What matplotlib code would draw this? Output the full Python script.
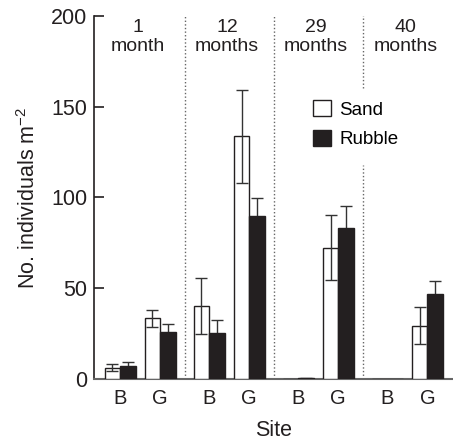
import matplotlib
matplotlib.use("Agg")
import matplotlib.pyplot as plt
import numpy as np
from matplotlib.patches import Patch

plt.rcParams['font.family'] = ['Liberation Sans', 'DejaVu Sans']

periods = ["1\nmonth", "12\nmonths", "29\nmonths", "40\nmonths"]
sites = ["B", "G"]
# order: (period, site) -> B1, G1, B12, G12, B29, G29, B40, G40
sand = [6.2, 33.4, 40.2, 133.5, 0.0, 72.3, 0.0, 29.4]
sand_err = [1.8, 4.8, 15.3, 25.7, 0.0, 17.8, 0.0, 10.0]
rubble = [7.2, 25.7, 25.3, 89.8, 0.5, 83.0, 0.0, 46.7]
rubble_err = [2.0, 4.6, 7.2, 10.0, 0.3, 12.0, 0.0, 7.3]

W, H = 453, 443
fig = plt.figure(figsize=(W / 100, H / 100), dpi=100)
ax = fig.add_axes([94 / W, 1 - 379 / H, (453 - 94) / W, (379 - 15.7) / H])

group_step = 2.22
centers = []
for i in range(len(periods)):
    for j in range(len(sites)):
        centers.append(i * group_step + j)
centers = np.array(centers)
bw = 0.385
dark = "#231f20"

ax.bar(centers - bw / 2, sand, bw, color="white", edgecolor=dark, linewidth=1.0, zorder=2.6)
ax.bar(centers + bw / 2, rubble, bw, color=dark, edgecolor=dark, linewidth=1.0, zorder=2.6)
ekw = dict(fmt="none", ecolor="#333333", elinewidth=1.0, capsize=4, capthick=1.0)
se = np.array(sand_err)
re = np.array(rubble_err)
m = se > 0
ax.errorbar((centers - bw / 2)[m], np.array(sand)[m], yerr=se[m], zorder=3, **ekw)
m = re > 0
ax.errorbar((centers + bw / 2)[m], np.array(rubble)[m], yerr=re[m], zorder=1.5, **ekw)

# dividers
divs = [(i * group_step + 1 + (i + 1) * group_step) / 2 for i in range(len(periods) - 1)]
dkw = dict(color="#666666", linestyle=(0, (1, 1.6)), linewidth=1.0, zorder=1)
ax.plot([divs[0]] * 2, [0, 200], **dkw)
ax.plot([divs[1]] * 2, [0, 200], **dkw)
ax.plot([divs[2]] * 2, [0, 118], **dkw)
ax.plot([divs[2]] * 2, [160, 201], **dkw)

# period labels
for i, p in enumerate(periods):
    ax.text(i * group_step + 0.5 - 0.05, 198, p, ha="center", va="top",
            fontsize=14, linespacing=1.1, color=dark)

ax.set_xlim(-0.65, 8.3)
ax.set_ylim(0, 200)
ax.set_yticks([0, 50, 100, 150, 200])
ax.set_xticks(centers)
ax.set_xticklabels(sites * len(periods))
ax.tick_params(axis="y", direction="in", length=7, width=1.2, labelsize=15.5, pad=5, colors=dark)
ax.tick_params(axis="x", length=0, labelsize=14.5, pad=7, colors=dark)
for s in ["top", "right"]:
    ax.spines[s].set_visible(False)
ax.spines["left"].set_color(dark)
ax.spines["left"].set_linewidth(1.2)
ax.spines["bottom"].set_color("#666666")
ax.spines["bottom"].set_linewidth(1.5)
ax.set_xlabel("Site", fontsize=15.5, labelpad=9, color=dark)
ax.set_ylabel("No. individuals m$^{\\mathregular{-2}}$", fontsize=15.5, labelpad=8, color=dark)

handles = [Patch(facecolor="white", edgecolor=dark, linewidth=1.0, label="Sand"),
           Patch(facecolor=dark, edgecolor=dark, linewidth=1.0, label="Rubble")]
ax.legend(handles=handles, loc="upper left", bbox_to_anchor=(0.595, 0.783), frameon=False,
          fontsize=13.5, handlelength=0.95, handleheight=0.95, handletextpad=0.45,
          labelspacing=0.6, borderpad=0.3, borderaxespad=0)

fig.savefig("out.png", dpi=100)
